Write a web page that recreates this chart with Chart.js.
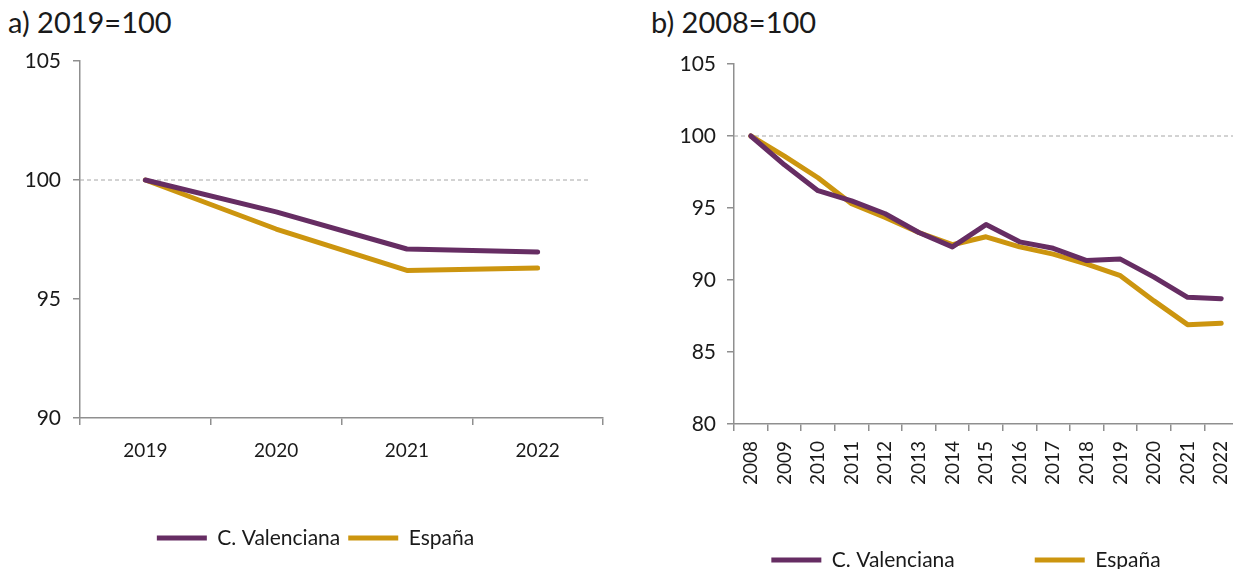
<!DOCTYPE html>
<html lang="es">
<head>
<meta charset="utf-8">
<script src="https://cdn.jsdelivr.net/npm/chart.js@4.4.1/dist/chart.umd.min.js"></script>
<style>
  html, body { margin: 0; padding: 0; background: #fff; overflow: hidden; }
  body { width: 1233px; height: 569px; position: relative; font-family: Lato, 'Open Sans', sans-serif; }
  .panel { position: absolute; top: 0; }
  #panelA { left: 0; width: 620px; height: 569px; }
  #panelB { left: 640px; width: 650px; height: 600px; }
  .titulo { position: absolute; top: 5px; font-size: 29px; line-height: 34px; color: #1a1a1a; white-space: nowrap; }
  #tituloA { left: 8px; }
  #tituloB { left: 651px; }
</style>
</head>
<body>
<div class="titulo" id="tituloA">a) 2019=100</div>
<div class="titulo" id="tituloB">b) 2008=100</div>
<div class="panel" id="panelA"><canvas id="chartA"></canvas></div>
<div class="panel" id="panelB"><canvas id="chartB"></canvas></div>
<script>
// Datos del panel a) 2019=100
const yearsA = ['2019', '2020', '2021', '2022'];
const valenciaA = [100, 98.66, 97.1, 96.97];
const espanaA = [100, 97.94, 96.2, 96.3];
const ticksA = [90, 95, 100, 105];

// Datos del panel b) 2008=100
const yearsB = ['2008', '2009', '2010', '2011', '2012', '2013', '2014', '2015',
  '2016', '2017', '2018', '2019', '2020', '2021', '2022'];
const valenciaB = [100, 98.0, 96.2, 95.5, 94.6, 93.3, 92.3, 93.85, 92.65, 92.2, 91.35, 91.45, 90.2, 88.8, 88.7];
const espanaB = [100, 98.6, 97.1, 95.3, 94.35, 93.3, 92.45, 93.0, 92.3, 91.8, 91.1, 90.3, 88.55, 86.9, 87.0];
const ticksB = [80, 85, 90, 95, 100, 105];

const series = ['C. Valenciana', 'España'];
const colores = ['#662d63', '#cc950f'];
const gris = '#8f8f8f';
const texto = '#1a1a1a';

Chart.defaults.font.family = "Lato, 'Open Sans', sans-serif";

// Línea discontinua de referencia en 100
const lineaBase = {
  id: 'lineaBase',
  beforeDatasetsDraw(chart, args, opts) {
    const ctx = chart.ctx;
    const y = chart.scales.y.getPixelForValue(opts.value);
    const { left, right } = chart.chartArea;
    ctx.save();
    ctx.setLineDash([4, 3]);
    ctx.strokeStyle = '#a6a6a6';
    ctx.lineWidth = 1;
    ctx.beginPath();
    ctx.moveTo(left, y);
    ctx.lineTo(right - (opts.inset || 0), y);
    ctx.stroke();
    ctx.restore();
  }
};

// Desplaza la leyenda (dx, dy)
const moverLeyenda = {
  id: 'moverLeyenda',
  afterLayout(chart, args, opts) {
    const lg = chart.legend;
    if (!lg) return;
    lg.left += opts.dx || 0;
    lg.right += opts.dx || 0;
    lg.top += opts.dy || 0;
    lg.bottom += opts.dy || 0;
  }
};

function crearGrafico(id, years, valencia, espana, ticks, cfg) {
  const ctx = document.getElementById(id).getContext('2d');
  return new Chart(ctx, {
    type: 'line',
    data: {
      labels: years,
      datasets: [valencia, espana].map((data, i) => ({
        label: series[i],
        data: data,
        borderColor: colores[i],
        backgroundColor: colores[i],
        borderWidth: 5,
        borderCapStyle: 'round',
        borderJoinStyle: 'round',
        pointRadius: 0,
        tension: 0
      }))
    },
    options: {
      responsive: true,
      maintainAspectRatio: false,
      animation: false,
      layout: { padding: cfg.padding },
      plugins: {
        title: { display: false },
        tooltip: { enabled: false },
        lineaBase: { value: 100, inset: cfg.inset },
        moverLeyenda: { dx: cfg.legendShift, dy: cfg.legendLift },
        legend: {
          position: 'bottom',
          labels: {
            usePointStyle: true,
            pointStyle: 'line',
            pointStyleWidth: 50,
            padding: cfg.legendGap,
            color: texto,
            font: { size: 21 }
          }
        }
      },
      scales: {
        x: {
          offset: true,
          grid: { offset: true, drawOnChartArea: false, tickLength: 7, color: gris, lineWidth: 1.5 },
          border: { color: gris, width: 1.5 },
          ticks: {
            autoSkip: false,
            maxRotation: cfg.rotation,
            minRotation: cfg.rotation,
            padding: cfg.xPad,
            color: texto,
            font: { size: 19 }
          },
          afterFit(s) { s.height = cfg.xHeight; }
        },
        y: {
          min: ticks[0],
          max: ticks[ticks.length - 1],
          grid: { drawOnChartArea: false, tickLength: 7, color: gris, lineWidth: 1.5 },
          border: { color: gris, width: 1.5 },
          ticks: { stepSize: ticks[1] - ticks[0], padding: cfg.yPad, color: texto, font: { size: 21 } },
          afterFit(s) { s.width = cfg.yWidth; }
        }
      }
    },
    plugins: [lineaBase, moverLeyenda]
  });
}

// Panel a)
crearGrafico('chartA', yearsA, valenciaA, espanaA, ticksA, {
  padding: { top: 61, left: 8, right: 17, bottom: 10.5 },
  yWidth: 72, yPad: 12, xHeight: 101.5, xPad: 14,
  rotation: 0, legendGap: 8, legendShift: 10, legendLift: 0, inset: 12
});

// Panel b)
crearGrafico('chartB', yearsB, valenciaB, espanaB, ticksB, {
  padding: { top: 64, left: 10, right: 52, bottom: 0 },
  yWidth: 84, yPad: 11, xHeight: 65, xPad: 10,
  rotation: 90, legendGap: 80, legendShift: 22, legendLift: -19.5, inset: 0
});
</script>
</body>
</html>
